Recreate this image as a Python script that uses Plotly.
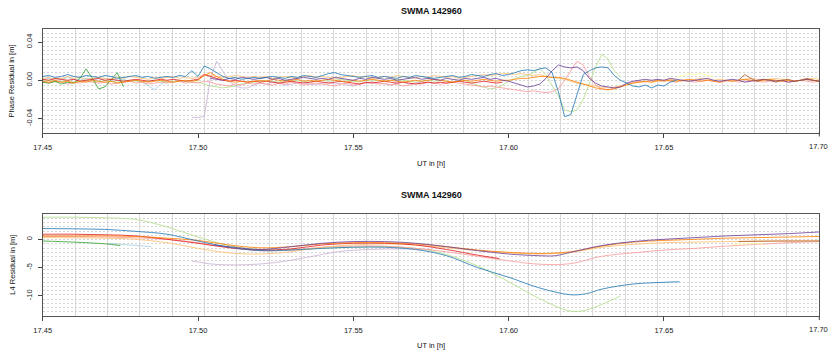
import numpy as np
import plotly.graph_objects as go

# ---------------- DATA ----------------
# Top panel: phase residuals in mm, sampled every DT hours starting at each series start time
DT = 0.002
T_START = 17.45
T_END = 17.70
X_TICKS = [17.45, 17.50, 17.55, 17.60, 17.65, 17.70]
X_TICK_TEXT = ["17.45", "17.50", "17.55", "17.60", "17.65", "17.70"]
TOP_Y_TICKS = [-0.04, 0.0, 0.04]
TOP_Y_TEXT = ["-0.04", "0.00", "0.04"]
BOT_Y_TICKS = [-10, -5, 0]
BOT_Y_TEXT = ["-10", "-5", "0"]
TITLE = "SWMA 142960"
X_LABEL = "UT in [h]"
TOP_Y_LABEL = "Phase Residual in [m]"
BOT_Y_LABEL = "L4 Residual in [m]"

start_lightblue = 17.45
phase_lightblue_mm = [1,2,0,1,3,1,0,2,1,0,2,1,0,1,-1,0,-2,-6,-10,-4,-1]

start_blue = 17.45
phase_blue_mm = ([4,5,3,4,6,4,3,5,4,3,5,4,2,3,4,5,3,4,2,3,4,3,5,4,10] +
                 [4,15,12,8,4,2,3,1,2,3] +
                 [2,3,4,3,2,4,3,5,4,3, 5,7,8,6,5,4,3,4,5,3, 4,3,2,4,3,5,4,3,2,3, 4,5,3,4,6,5,4,6,7,5] +
                 [6,8,10,11,10,12,13] +
                 [8,-12,-38,-36,-15,6,10,13,14,13,5,0,-3,-6,-7,-5,-8,-5,-6,-2,0])

start_lightgreen = 17.45
phase_lightgreen_mm = ([-1,0,-2,-1,0,-2,-1,0,-1,-2,0,-1,-2,-1,0,-1,-2,-1,0,-1,-2,-1,0,-1,-2] +
                       [-2,-4,-6,-7,-8,-7,-6,-4,-3,-2] +
                       [-1,0,-1,-2,0,-1,0,-1,-2,-1, 0,-1,0,1,0,-1,-2,0,-1,0, -1,0,1,0,-1,-2,-1,0,-1,0, -1,-2,-1,0,-3,-5,-7,-9,-8,-5] +
                       [-1,2,4,5,8,12,6] +
                       [-6,-16,-31,-33,-31,-20,-4,14,27,22,10,3])

start_green = 17.45
phase_green_mm = [-2,-3,-1,-4,-2,-3,2,12,2,-9,-7,0,8,-7]

start_pink = 17.45
phase_pink_mm = ([-2,-3,-1,-2,-4,-2,-3,-1,-2,-3,-2,-4,-3,-2,-1,-3,-2,-4,-3,-2,-3,-2,-1,-3,-2] +
                 [-3,-1,-2,-4,-5,-6,-4,-5,-3,-4] +
                 [-3,-4,-5,-3,-4,-2,-3,-5,-4,-3, -4,-5,-6,-4,-3,-5,-4,-3,-2,-4, -3,-5,-4,-6,-5,-3,-4,-2,-3,-4, -3,-2,-3,-4,-5,-6,-7,-6,-7,-8] +
                 [-9,-10,-11,-12,-11,-12,-13] +
                 [-12,-9,0,10,20,16,4,-5,-9,-10,-8,-6,-4,-2,-1,-2,0,-1] +
                 [0,-1,-2,0,-1,-2,-1,0,-1,-2,-1,0,-2,-1,0,-1,-2,-1,0,-1,-2,-1,0,-1,-2,-1])

start_red = 17.45
phase_red_mm = ([1,0,2,1,0,1,-1,0,1,2,0,1,0,-1,0,1,0,-1,0,1,0,1,0,-1,0] +
                [1,6,4,2,0,-1,0,-1,-2,-1] +
                [-2,-1,-2,-3,-2,-1,-2,-3,-2,-1, -2,-3,-2,-1,-2,-3,-4,-2,-3,-2, -1,-2,-3,-2,-3,-4,-3,-2,-3,-2, -3,-2,-1,-2,-3,-2,-1,-2,-3,-2])

start_lightorange = 17.45
phase_lightorange_mm = ([2,3,1,2,4,2,3,1,2,3,2,1,3,2,4,3,2,1,3,2,3,4,2,3,2] +
                        [3,6,5,4,3,4,5,4,3,4] +
                        [3,4,2,3,4,3,2,4,5,3, 4,3,2,3,4,5,3,4,2,3, 4,3,5,4,3,2,4,3,5,4, 3,4,2,3,4,5,6,5,6,7] +
                        [7,6,7,6,5,6,4] +
                        [3,2,1,-1,-3,-4,-5,-6,-7,-8,-7,-6,-4,-3,-2,-1,-2,-1] +
                        [0,1,0,-1,0,1,2,1,0,1,0,-1,0,1,2,1,0,1,2,1,0,-1,0,1,2,1])

start_orange = 17.45
phase_orange_mm = ([-1,-2,0,-2,-1,-3,-1,-2,0,-1,-2,-1,-3,-2,-1,0,-1,-2,-1,0,-1,-2,-1,0,-1] +
                   [0,5,8,4,1,-1,-2,-1,-2,-1] +
                   [0,-1,1,0,-1,0,1,-1,0,-1, 0,1,0,-1,-2,0,-1,0,1,0, -1,0,-1,-2,-1,0,-1,0,1,0, -1,-2,-1,0,-1,0,1,0,-1,0] +
                   [0,1,2,2,3,4,4] +
                   [3,3,2,0,-2,-4,-6,-8,-9,-10,-9,-7,-5,-3,-2,-1,-2,0] +
                   [-1,0,-1,0,1,0,-1,0,-1,-2,0,-1,0,1,0,-1,0,1,0,-1,0,-1,0,1,0,-1])

start_lavender = 17.498
phase_lavender_mm = ([-39,-39,-38,2,20,10,-1,-6,-8,-8,-5] +
                     [-3,-4,-2,-3,-5,-4,-3,-2,-4,-5, -3,-2,-4,-3,-5,-6,-4,-3,-2,-3, -4,-5,-3,-2,-4,-3,-2,-3])

start_purple = 17.504
phase_purple_mm = ([2,1,0,2,1,3,2,1] +
                   [2,3,1,2,0,1,2,3,2,1, 2,1,3,2,1,0,2,1,3,2, 1,2,0,1,2,3,1,2,1,0, 2,1,0,2,1,2,3,1,2,0] +
                   [-1,-3,-5,-7,-6,-4,2] +
                   [10,16,14,13,14,10,2,-3,-6,-7,-8,-7,-3,-1,0,1,0,1] +
                   [0,2,1,0,-1,0,1,2,0,-1,0,1,0,-2,-1,0,1,0,-1,0,-2,-1,0,1,0,-1])

start_yellow = 17.654
phase_yellow_mm = [3,5,7,6,7,5,4]

start_brown = 17.674
phase_brown_mm = [0,6,2,-1,1,0,-2,0,1,-1,0,2,0,-1]

# Bottom panel: L4 residuals in m (time in h, value)
l4_lightblue_t = [17.471, 17.478, 17.485]
l4_lightblue_v = [-0.7, -1.0, -1.3]

l4_blue_t = [17.45, 17.46, 17.47, 17.48, 17.49, 17.50, 17.51, 17.52, 17.53, 17.54, 17.55, 17.56, 17.57,
             17.58, 17.59, 17.60, 17.61, 17.62, 17.625, 17.63, 17.64, 17.65, 17.655]
l4_blue_v = [1.9, 1.85, 1.75, 1.4, 0.9, -0.3, -1.4, -2.0, -1.9, -1.6, -1.4, -1.4, -1.8,
             -2.9, -5.0, -6.7, -8.6, -9.8, -9.6, -8.8, -7.9, -7.6, -7.5]

l4_lightgreen_t = [17.45, 17.46, 17.47, 17.48, 17.49, 17.50, 17.51, 17.52, 17.53, 17.54, 17.55, 17.56,
                   17.57, 17.58, 17.59, 17.60, 17.61, 17.62, 17.625, 17.63, 17.636]
l4_lightgreen_v = [3.9, 3.9, 3.8, 3.5, 2.2, 0.4, -1.1, -1.8, -1.8, -1.6, -1.4, -1.3,
                   -1.6, -2.7, -4.7, -7.5, -10.5, -12.7, -12.5, -11.5, -10.0]

l4_green_t = [17.45, 17.46, 17.47, 17.475]
l4_green_v = [-0.3, -0.5, -0.8, -1.1]

l4_pink_t = [17.45, 17.47, 17.49, 17.50, 17.51, 17.52, 17.53, 17.54, 17.55, 17.56, 17.57, 17.58, 17.59,
             17.60, 17.61, 17.62, 17.63, 17.64, 17.65, 17.66, 17.67, 17.68, 17.69, 17.70]
l4_pink_v = [0.5, 0.4, 0.0, -0.6, -1.4, -2.0, -1.9, -1.4, -1.2, -1.2, -1.6, -2.2, -3.0,
             -3.8, -4.4, -4.3, -3.0, -2.4, -1.9, -1.6, -1.2, -0.9, -0.6, -0.4]

l4_red_t = [17.45, 17.46, 17.47, 17.48, 17.49, 17.50, 17.51, 17.52, 17.53, 17.54, 17.55, 17.56, 17.57,
            17.58, 17.59, 17.597]
l4_red_v = [0.9, 0.9, 0.8, 0.6, 0.0, -0.7, -1.5, -1.9, -1.7, -1.0, -0.7, -0.7, -1.0,
            -1.8, -2.8, -3.4]

l4_lightorange_t = [17.45, 17.47, 17.48, 17.49, 17.50, 17.51, 17.52, 17.53, 17.54, 17.55, 17.56, 17.57,
                    17.58, 17.59, 17.60, 17.61, 17.62, 17.63, 17.64, 17.65, 17.66, 17.67, 17.68, 17.69, 17.70]
l4_lightorange_v = [0.3, 0.2, 0.0, -0.6, -1.6, -2.4, -2.6, -2.2, -1.4, -1.0, -0.8, -1.0,
                    -1.5, -2.0, -2.4, -2.6, -2.3, -1.4, -0.9, -0.6, -0.5, -0.4, -0.3, -0.3, -0.3]

l4_orange_t = [17.45, 17.46, 17.47, 17.48, 17.49, 17.50, 17.51, 17.52, 17.53, 17.54, 17.55, 17.56, 17.57,
               17.58, 17.59, 17.60, 17.61, 17.62, 17.63, 17.64, 17.65, 17.66, 17.67, 17.68, 17.69, 17.70]
l4_orange_v = [0.6, 0.6, 0.6, 0.5, 0.2, -0.2, -1.0, -1.5, -1.3, -0.8, -0.6, -0.6, -0.8,
               -1.3, -1.9, -2.3, -2.5, -2.2, -1.2, -0.5, -0.2, 0.0, 0.2, 0.3, 0.4, 0.5]

l4_lavender_t = [17.498, 17.505, 17.515, 17.525, 17.535, 17.545, 17.555, 17.565, 17.575]
l4_lavender_v = [-3.8, -4.4, -4.5, -4.1, -3.2, -2.2, -1.8, -1.7, -1.8]

l4_purple_t = [17.505, 17.51, 17.52, 17.53, 17.54, 17.55, 17.56, 17.57, 17.58, 17.59, 17.60, 17.61, 17.615,
               17.62, 17.63, 17.64, 17.65, 17.66, 17.67, 17.68, 17.69, 17.70]
l4_purple_v = [-1.0, -1.3, -1.8, -1.3, -0.7, -0.4, -0.4, -0.7, -1.3, -2.0, -2.6, -2.9, -2.9,
               -2.3, -1.1, -0.4, 0.0, 0.3, 0.6, 0.8, 1.0, 1.3]

l4_yellow_t = [17.672, 17.676, 17.682]
l4_yellow_v = [-0.9, -0.8, -0.8]

l4_brown_t = [17.674, 17.68, 17.69, 17.70]
l4_brown_v = [-0.4, -0.35, -0.3, -0.3]

COLORS = {
    "lightblue": "#a6cee3", "blue": "#1f78b4", "lightgreen": "#b2df8a", "green": "#33a02c",
    "pink": "#fb9a99", "red": "#e31a1c", "lightorange": "#fdbf6f", "orange": "#ff7f00",
    "lavender": "#cab2d6", "purple": "#6a3d9a", "yellow": "#ffff99", "brown": "#b15928",
}

top_series = [
    ("lightblue", start_lightblue, phase_lightblue_mm),
    ("lightgreen", start_lightgreen, phase_lightgreen_mm),
    ("lavender", start_lavender, phase_lavender_mm),
    ("pink", start_pink, phase_pink_mm),
    ("lightorange", start_lightorange, phase_lightorange_mm),
    ("yellow", start_yellow, phase_yellow_mm),
    ("green", start_green, phase_green_mm),
    ("red", start_red, phase_red_mm),
    ("orange", start_orange, phase_orange_mm),
    ("purple", start_purple, phase_purple_mm),
    ("blue", start_blue, phase_blue_mm),
    ("brown", start_brown, phase_brown_mm),
]

bottom_series = [
    ("lightblue", l4_lightblue_t, l4_lightblue_v),
    ("lightgreen", l4_lightgreen_t, l4_lightgreen_v),
    ("lavender", l4_lavender_t, l4_lavender_v),
    ("pink", l4_pink_t, l4_pink_v),
    ("lightorange", l4_lightorange_t, l4_lightorange_v),
    ("yellow", l4_yellow_t, l4_yellow_v),
    ("green", l4_green_t, l4_green_v),
    ("red", l4_red_t, l4_red_v),
    ("orange", l4_orange_t, l4_orange_v),
    ("purple", l4_purple_t, l4_purple_v),
    ("blue", l4_blue_t, l4_blue_v),
    ("brown", l4_brown_t, l4_brown_v),
]

# ---------------- FIGURE ----------------
W, H = 830, 351
FONT = "Liberation Sans, Arial, sans-serif"

fig = go.Figure()

for name, t0, vals in top_series:
    t = np.round(t0 + DT * np.arange(len(vals)), 4)
    fig.add_trace(go.Scatter(x=t, y=np.array(vals) / 1000.0, mode="lines",
                             line=dict(color=COLORS[name], width=1), opacity=0.8,
                             xaxis="x", yaxis="y", showlegend=False, hoverinfo="skip"))

for name, tt, vv in bottom_series:
    fig.add_trace(go.Scatter(x=tt, y=vv, mode="lines", line_shape="spline",
                             line=dict(color=COLORS[name], width=1), opacity=0.8,
                             xaxis="x2", yaxis="y2", showlegend=False, hoverinfo="skip"))

# pixel geometry
left, right = 42.7, 819.3
top1, bot1 = 29.0, 132.5
top2, bot2 = 214.0, 316.0
xd = [left / W, right / W]
yd1 = [1 - bot1 / H, 1 - top1 / H]
yd2 = [1 - bot2 / H, 1 - top2 / H]

y1_range = [-0.0547, 0.0537]
y2_range = [-13.55, 4.47]

def xaxis_cfg(anchor):
    return dict(domain=xd, anchor=anchor, range=[T_START, T_END], tickmode="array",
                tickvals=X_TICKS[:-1], ticktext=X_TICK_TEXT[:-1], ticks="outside", ticklen=4,
                tickcolor="#444", tickwidth=1, ticklabelstandoff=3, automargin=False,
                showline=True, mirror=True, linecolor="#555", linewidth=1,
                showgrid=False, zeroline=False,
                tickfont=dict(family=FONT, size=7.5, color="#222"),
                minor=dict(tick0=T_START, dtick=(T_END - T_START) / 24, showgrid=True,
                           gridcolor="#d9d9d9", gridwidth=1, griddash="solid", ticks=""))

def yaxis_cfg(anchor, domain, rng, vals, text):
    return dict(domain=domain, anchor=anchor, range=rng, tickmode="array",
                tickvals=vals, ticktext=text, tickangle=-90, ticks="outside", ticklen=4,
                tickcolor="#444", tickwidth=1, ticklabelstandoff=3, automargin=False,
                showline=True, mirror=True, linecolor="#555", linewidth=1,
                showgrid=False, zeroline=False,
                tickfont=dict(family=FONT, size=7.5, color="#222"),
                minor=dict(tick0=rng[0], dtick=(rng[1] - rng[0]) / 24, showgrid=True,
                           gridcolor="#d4d4d4", gridwidth=1, griddash="2px,2px", ticks=""))

fig.update_layout(
    width=W, height=H, margin=dict(l=0, r=0, t=0, b=0, autoexpand=False),
    paper_bgcolor="white", plot_bgcolor="white",
    xaxis=xaxis_cfg("y"),
    yaxis=yaxis_cfg("x", yd1, y1_range, TOP_Y_TICKS, TOP_Y_TEXT),
    xaxis2=xaxis_cfg("y2"),
    yaxis2=yaxis_cfg("x2", yd2, y2_range, BOT_Y_TICKS, BOT_Y_TEXT),
    font=dict(family=FONT, size=7.5, color="#222"),
)

xc = (left + right) / 2 / W
ann = [
    dict(text="<b>" + TITLE + "</b>", x=xc, y=1 - 11 / H, size=9),
    dict(text="<b>" + TITLE + "</b>", x=xc, y=1 - 195 / H, size=9),
    dict(text=X_LABEL, x=xc, y=1 - 163 / H, size=7.5),
    dict(text=X_LABEL, x=xc, y=1 - 345 / H, size=7.5),
]
for a in ann:
    fig.add_annotation(text=a["text"], x=a["x"], y=a["y"], xref="paper", yref="paper",
                       xanchor="center", yanchor="middle", showarrow=False,
                       font=dict(family=FONT, size=a["size"], color="#111"))
for lbl, yc in [(TOP_Y_LABEL, 1 - (top1 + bot1) / 2 / H), (BOT_Y_LABEL, 1 - (top2 + bot2) / 2 / H)]:
    fig.add_annotation(text=lbl, x=11.7 / W, y=yc, xref="paper", yref="paper",
                       xanchor="center", yanchor="middle", textangle=-90, showarrow=False,
                       font=dict(family=FONT, size=7.5, color="#111"))

# last tick label (17.70) right-aligned at the page edge, and its tick mark
for yb in [bot1, bot2]:
    fig.add_annotation(text=X_TICK_TEXT[-1], x=829.5 / W, y=1 - (yb + 13.5) / H, xref="paper", yref="paper",
                       xanchor="right", yanchor="middle", showarrow=False,
                       font=dict(family=FONT, size=7.5, color="#222"))
    fig.add_shape(type="line", xref="paper", yref="paper", x0=right / W, x1=right / W,
                  y0=1 - yb / H, y1=1 - (yb + 4) / H, line=dict(color="#444", width=1))

fig.write_html("out.html", config={"displayModeBar": False},
               post_script="document.body.style.margin='0';document.body.style.overflow='hidden';")
